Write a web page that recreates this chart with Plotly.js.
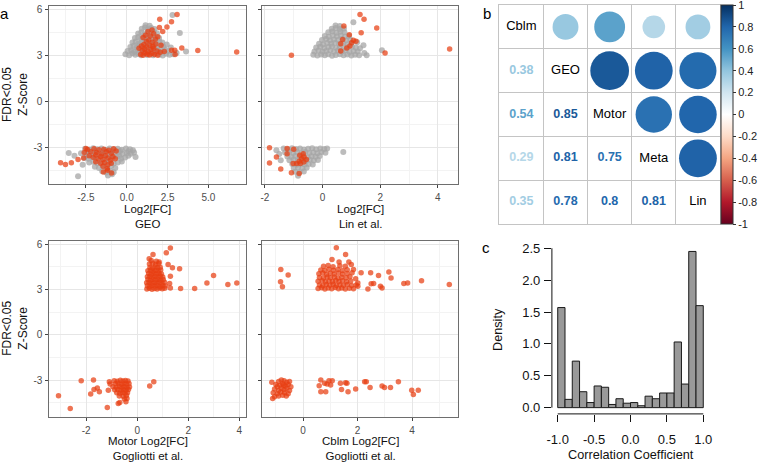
<!DOCTYPE html>
<html><head><meta charset="utf-8">
<script src="https://cdn.plot.ly/plotly-3.0.1.min.js"></script>
<style>html,body{margin:0;padding:0;background:#fff}#chart{width:760px;height:463px}</style>
</head><body><div id="chart"></div>
<script>
// ---------- Panel a: GEO (top-left) ----------
const geoGrayX = [-0.08,0.15,0.35,0.52,0.70,0.88,1.05,1.25,1.45,1.62,1.80,2.00,2.20,2.40,2.62,2.85,3.05,
 0.05,0.28,0.46,0.65,0.82,1.00,1.18,1.38,1.55,1.72,1.92,2.10,2.32,2.55,
 0.22,0.42,0.60,0.78,0.95,1.12,1.30,1.50,1.68,1.86,2.05,2.25,
 0.35,0.55,0.72,0.90,1.08,1.26,1.44,1.62,1.80,2.00,2.18,
 0.50,0.70,0.88,1.06,1.24,1.42,1.60,1.78,1.98,
 0.70,0.90,1.08,1.27,1.46,1.64,1.85,
 0.92,1.12,1.30,1.50,1.70,
 1.15,1.40,2.80,3.25,3.63,2.70,2.45,
 -2.55,-2.30,-2.05,-1.80,-1.55,-1.30,-1.05,-0.80,-0.55,-0.30,-0.05,0.20,0.38,
 -2.40,-1.90,-1.40,-0.90,-0.40,0.10,
 -2.80,-2.50,-2.25,-2.00,-1.75,-1.50,-1.25,-1.00,-0.75,-0.50,-0.25,0.00,0.25,0.45,
 -2.45,-1.95,-1.45,-0.95,-0.45,0.10,
 -2.60,-2.35,-2.10,-1.85,-1.60,-1.35,-1.10,-0.85,-0.60,-0.35,-0.10,0.54,
 -2.30,-2.05,-1.80,-1.55,-1.30,-1.05,-0.80,-0.55,-0.30,
 -1.95,-1.70,-1.45,-1.20,-0.95,-0.70,
 -1.50,-1.25,-1.00,-0.80,-1.15,-0.90,
 -3.55,-2.98,-3.20,-2.70];
const geoGrayY = [3.12,3.05,3.18,3.08,3.14,3.04,3.16,3.07,3.13,3.05,3.17,3.09,3.03,3.15,3.08,3.12,3.20,
 3.32,3.38,3.28,3.42,3.30,3.40,3.27,3.36,3.45,3.31,3.39,3.28,3.42,3.33,
 3.58,3.66,3.55,3.70,3.60,3.52,3.68,3.57,3.65,3.54,3.69,3.60,
 3.88,3.95,3.82,3.92,3.86,3.97,3.84,3.93,3.85,3.95,3.88,
 4.18,4.24,4.12,4.22,4.15,4.27,4.14,4.22,4.17,
 4.47,4.55,4.42,4.52,4.45,4.57,4.48,
 4.78,4.85,4.74,4.83,4.76,
 5.00,4.97,5.67,4.50,3.30,3.55,3.75,
 -3.05,-3.10,-3.02,-3.08,-3.04,-3.11,-3.03,-3.09,-3.05,-3.12,-3.04,-3.08,-3.15,
 -3.20,-3.22,-3.18,-3.24,-3.20,-3.22,
 -3.35,-3.30,-3.40,-3.28,-3.38,-3.32,-3.42,-3.30,-3.36,-3.28,-3.40,-3.33,-3.38,-3.30,
 -3.50,-3.52,-3.48,-3.50,-3.52,-3.50,
 -3.65,-3.70,-3.60,-3.68,-3.58,-3.72,-3.62,-3.66,-3.58,-3.70,-3.62,-3.59,
 -3.95,-3.90,-4.00,-3.92,-3.98,-3.90,-4.02,-3.94,-3.88,
 -4.22,-4.30,-4.20,-4.28,-4.18,-4.30,
 -4.52,-4.60,-4.50,-4.58,-4.80,-4.72,
 -3.33,-4.85,-3.50,-4.10];
const geoOrangeX = [0.85,1.00,1.12,1.25,1.40,1.55,1.70,1.90,0.95,1.10,1.30,1.48,1.65,1.85,2.05,0.90,1.05,1.22,1.40,1.60,1.78,1.20,1.35,1.55,1.75,1.00,1.15,1.45,1.65,1.90,1.30,1.55,0.75,2.10,2.30,
 6.73,4.35,3.37,2.94,2.74,2.96,3.08,2.02,2.46,2.74,2.20,2.00,
 -2.40,-2.20,-2.00,-1.85,-1.70,-1.55,-1.40,-1.25,-1.10,-0.95,-0.80,-0.65,-2.30,-2.05,-1.90,-1.75,-1.60,-1.45,-1.30,-1.15,-1.00,-0.85,-0.70,-1.90,-1.60,-1.35,-1.15,-0.95,-1.45,-1.20,
 -4.05,-3.75,-3.39,-2.98,-2.64,-2.50,-0.93,-1.43,-1.17,-2.60];
const geoOrangeY = [3.10,3.05,3.20,3.12,3.06,3.18,3.10,3.04,3.35,3.45,3.30,3.40,3.50,3.32,3.25,3.65,3.75,3.60,3.70,3.62,3.78,3.95,4.05,3.90,4.10,4.20,4.35,4.30,4.45,4.25,4.60,4.70,3.50,3.70,3.30,
 3.26,3.35,3.52,3.37,3.37,3.09,5.70,5.39,4.89,5.24,4.60,4.85,
 -3.10,-3.25,-3.05,-3.30,-3.12,-3.40,-3.08,-3.25,-3.15,-3.35,-3.05,-3.20,-3.50,-3.60,-3.45,-3.70,-3.55,-3.75,-3.50,-3.65,-3.80,-3.55,-3.70,-3.90,-4.00,-3.95,-4.10,-4.00,-4.20,-4.35,
 -3.96,-4.07,-3.96,-3.76,-3.65,-3.04,-4.63,-4.57,-4.45,-3.30];

// ---------- Panel a: Lin et al. (top-right) ----------
const linGrayX = [-0.32,-0.18,-0.05,0.08,0.20,0.33,0.46,0.60,0.73,0.86,1.00,1.13,1.27,
 -0.28,-0.14,0.00,0.13,0.27,0.40,0.53,0.67,0.80,0.94,1.08,1.22,
 -0.22,-0.08,0.06,0.20,0.33,0.47,0.60,0.74,0.88,1.02,1.16,
 -0.12,0.02,0.16,0.30,0.44,0.58,0.72,0.86,1.00,
 -0.02,0.12,0.26,0.40,0.54,0.68,0.82,0.96,
 0.08,0.22,0.36,0.50,0.64,0.78,0.92,
 0.20,0.34,0.48,0.62,0.76,
 0.32,0.46,0.60,0.74,
 0.60,0.45,1.07,1.53,2.06,1.42,1.45,1.30,1.20,
 -1.35,-1.20,-1.06,-0.92,-0.78,-0.64,-0.50,-0.36,-0.22,-0.08,0.06,0.16,
 -1.30,-1.16,-1.02,-0.88,-0.74,-0.60,-0.46,-0.32,-0.18,-0.04,0.10,
 -1.22,-1.08,-0.94,-0.80,-0.66,-0.52,-0.38,-0.24,-0.10,
 -1.15,-1.00,-0.86,-0.72,-0.58,-0.44,-0.30,-0.16,
 -1.05,-0.90,-0.76,-0.62,-0.48,-0.34,
 -1.00,-0.85,-0.70,-0.55,
 -0.95,-0.80,-0.65,
 -0.85,0.72,-1.50,-1.45,-1.60];
const linGrayY = [3.08,3.03,3.10,3.05,3.12,3.02,3.07,3.11,3.04,3.09,3.03,3.08,3.05,
 3.30,3.36,3.27,3.33,3.38,3.28,3.35,3.30,3.37,3.26,3.32,3.29,
 3.55,3.60,3.52,3.58,3.62,3.54,3.59,3.51,3.57,3.61,3.53,
 3.80,3.76,3.84,3.79,3.86,3.78,3.83,3.77,3.82,
 4.05,4.10,4.02,4.08,4.04,4.11,4.03,4.07,
 4.30,4.26,4.34,4.28,4.33,4.27,4.31,
 4.55,4.60,4.52,4.58,4.54,
 4.78,4.82,4.76,4.80,
 4.95,4.98,5.20,3.04,3.37,3.70,3.20,3.50,3.90,
 -3.04,-3.09,-3.02,-3.07,-3.03,-3.10,-3.05,-3.02,-3.08,-3.04,-3.06,-3.03,
 -3.30,-3.26,-3.33,-3.28,-3.35,-3.27,-3.32,-3.29,-3.34,-3.27,-3.31,
 -3.55,-3.59,-3.52,-3.57,-3.53,-3.60,-3.54,-3.58,-3.52,
 -3.80,-3.76,-3.83,-3.78,-3.84,-3.77,-3.82,-3.79,
 -4.05,-4.09,-4.03,-4.08,-4.04,-4.07,
 -4.30,-4.27,-4.33,-4.29,
 -4.55,-4.58,-4.53,
 -4.82,-3.26,-3.40,-3.80,-3.15];
const linOrangeX = [1.30,1.44,1.88,0.74,0.93,1.34,0.70,0.63,1.07,1.16,1.01,0.84,0.95,0.63,2.17,4.41,-1.08,
 -1.84,-1.60,-1.84,-1.45,-1.23,-1.23,-1.00,-1.08,-0.81,-0.79,-0.67,-0.73,-0.81,-0.90,-1.02,-0.56,-0.65,-0.77,-0.64];
const linOrangeY = [5.70,5.39,4.83,4.96,4.39,4.52,4.07,3.80,4.02,3.96,3.87,3.52,3.65,3.33,3.20,3.46,3.04,
 -2.98,-3.59,-3.98,-4.37,-3.04,-3.37,-3.09,-4.61,-4.67,-3.48,-3.37,-3.70,-3.87,-4.02,-4.02,-3.76,-3.91,-4.02,-3.59];

// ---------- Panel a: Motor, Gogliotti et al. (bottom-left) ----------
const motorX = [0.38,0.48,0.58,0.68,0.78,0.88,0.98,1.08,
 0.40,0.50,0.60,0.70,0.80,0.90,1.00,1.10,
 0.37,0.47,0.57,0.67,0.77,0.87,0.97,1.07,
 0.42,0.52,0.62,0.72,0.82,0.92,1.02,
 0.40,0.50,0.60,0.70,0.80,0.90,1.00,
 0.45,0.55,0.65,0.75,0.85,0.95,
 0.42,0.52,0.62,0.72,0.82,0.92,
 0.50,0.60,0.70,0.80,0.90,
 0.48,0.60,0.72,0.85,
 0.55,0.75,
 0.62,1.14,1.30,1.21,1.38,1.66,1.30,1.27,1.30,1.70,2.25,2.73,2.99,3.55,3.90,0.47,0.86,
 -0.90,-0.78,-0.66,-0.56,-0.46,-0.36,
 -0.85,-0.74,-0.62,-0.52,-0.42,-0.32,
 -0.95,-0.82,-0.70,-0.60,-0.50,-0.40,-0.30,
 -0.88,-0.76,-0.64,-0.54,-0.44,-0.34,
 -0.80,-0.68,-0.58,-0.48,-0.38,
 -0.70,-0.55,-0.42,
 -0.50,-0.40,
 -3.08,-2.62,-2.19,-1.71,-1.69,-1.82,-1.56,-1.48,-1.17,-1.13,-1.09,-0.74,-0.68,-0.44,0.49,0.65,-1.06];
const motorY = [3.04,3.09,3.02,3.07,3.03,3.10,3.05,3.08,
 3.26,3.22,3.29,3.24,3.28,3.21,3.27,3.23,
 3.45,3.49,3.42,3.47,3.43,3.50,3.44,3.48,
 3.66,3.62,3.69,3.64,3.68,3.61,3.67,
 3.85,3.89,3.82,3.88,3.84,3.90,3.83,
 4.06,4.02,4.09,4.04,4.08,4.03,
 4.25,4.29,4.22,4.28,4.24,4.30,
 4.46,4.42,4.49,4.44,4.48,
 4.70,4.74,4.68,4.72,
 4.92,4.88,
 5.33,5.44,5.76,4.67,4.44,4.38,3.89,3.40,3.11,3.07,3.07,3.44,3.93,3.33,3.44,5.04,4.82,
 -3.04,-3.08,-3.02,-3.07,-3.03,-3.06,
 -3.25,-3.22,-3.28,-3.24,-3.27,-3.23,
 -3.45,-3.48,-3.43,-3.47,-3.44,-3.49,-3.46,
 -3.65,-3.62,-3.68,-3.64,-3.67,-3.63,
 -3.85,-3.88,-3.83,-3.87,-3.84,
 -4.05,-4.08,-4.03,
 -4.25,-4.22,
 -4.04,-4.89,-3.04,-3.00,-3.62,-3.93,-3.53,-3.78,-4.82,-3.67,-3.11,-4.56,-4.49,-4.44,-3.40,-3.11,-3.27];

// ---------- Panel a: Cblm, Gogliotti et al. (bottom-right) ----------
const cblmX = [0.55,0.68,0.80,0.92,1.05,1.18,1.30,1.42,1.55,1.70,1.85,
 0.60,0.72,0.85,0.98,1.10,1.22,1.35,1.48,1.62,1.78,1.95,
 0.55,0.70,0.82,0.95,1.08,1.20,1.32,1.45,1.60,1.75,
 0.60,0.75,0.88,1.00,1.15,1.28,1.42,1.58,1.72,
 0.58,0.72,0.86,1.00,1.14,1.30,1.45,1.62,1.80,
 0.65,0.80,0.95,1.12,1.28,1.45,1.62,
 0.75,0.92,1.10,1.35,1.55,
 1.22,1.56,1.06,1.32,1.68,1.77,1.85,2.13,2.48,2.77,3.15,3.23,2.59,2.50,2.38,2.84,2.90,3.70,3.84,4.35,5.37,1.93,2.01,2.01,-0.82,-0.55,-0.83,-0.76,
 -1.15,-1.00,-0.90,-0.80,-0.70,-0.60,-0.50,-0.95,-0.85,-0.75,-0.65,-0.55,-0.45,-1.05,-0.90,-0.80,-0.70,-0.60,-0.50,-1.10,-0.95,-0.82,-0.68,-0.55,-1.05,-0.90,-0.75,-1.12,-0.62,-0.72,
 0.65,0.59,0.65,0.83,0.79,0.95,1.07,1.01,1.37,1.41,1.56,1.61,1.65,1.93,2.26,2.32,2.46,2.90,2.99,3.21,3.50,3.99,4.05,4.23,0.88];
const cblmY = [3.07,3.12,3.04,3.10,3.05,3.13,3.06,3.11,3.03,3.09,3.05,
 3.30,3.26,3.33,3.28,3.35,3.27,3.32,3.29,3.34,3.27,3.31,
 3.55,3.59,3.52,3.57,3.53,3.60,3.54,3.58,3.52,3.56,
 3.80,3.76,3.83,3.78,3.84,3.77,3.82,3.79,3.85,
 4.05,4.09,4.02,4.08,4.04,4.10,4.03,4.07,4.12,
 4.30,4.26,4.34,4.28,4.33,4.27,4.31,
 4.55,4.60,4.52,4.58,4.54,
 5.78,5.33,5.00,4.82,4.82,4.67,4.33,4.11,4.11,3.93,4.16,3.76,3.40,3.38,3.04,3.22,3.11,3.40,3.44,3.58,3.33,3.71,3.44,3.22,4.33,3.96,3.51,3.18,
 -3.15,-3.30,-3.10,-3.00,-3.05,-3.15,-3.10,-3.45,-3.35,-3.25,-3.40,-3.30,-3.45,-3.60,-3.70,-3.55,-3.65,-3.55,-3.70,-3.85,-3.90,-3.80,-3.85,-3.90,-4.10,-4.05,-4.00,-4.22,-4.05,-3.35,
 -3.00,-3.38,-3.78,-3.78,-3.22,-3.04,-3.04,-3.33,-3.22,-3.62,-3.18,-3.22,-3.78,-3.60,-3.11,-3.11,-3.49,-3.40,-3.49,-3.49,-3.11,-3.67,-3.96,-3.67,-3.27];

// ---------- Panel b: correlation matrix ----------
const corrNames = ['Cblm','GEO','Motor','Meta','Lin'];
const corrValues = [
  [1.00, 0.38, 0.54, 0.29, 0.35],
  [0.38, 1.00, 0.85, 0.81, 0.78],
  [0.54, 0.85, 1.00, 0.75, 0.80],
  [0.29, 0.81, 0.75, 1.00, 0.81],
  [0.35, 0.78, 0.80, 0.81, 1.00]
];
const colorbarTicks = [1, 0.8, 0.6, 0.4, 0.2, 0, -0.2, -0.4, -0.6, -0.8, -1];
const colorbarTickText = ['1','0.8','0.6','0.4','0.2','0','-0.2','-0.4','-0.6','-0.8','-1'];

// ---------- Panel c: histogram ----------
const histBinMid = [-0.95,-0.85,-0.75,-0.65,-0.55,-0.45,-0.35,-0.25,-0.15,-0.05,0.05,0.15,0.25,0.35,0.45,0.55,0.65,0.75,0.85,0.95];
const histDensity = [1.57,0.13,0.73,0.25,0.08,0.34,0.32,0.05,0.14,0.07,0.08,0.03,0.18,0.14,0.23,0.23,1.03,0.37,2.45,1.60];
const histXTicks = [-1,-0.5,0,0.5,1];
const histXTickText = ['-1.0','-0.5','0.0','0.5','1.0'];
const histYTicks = [0,0.5,1,1.5,2,2.5];
const histYTickText = ['0.0','0.5','1.0','1.5','2.0','2.5'];

// ---------- tick labels and titles for panel a ----------
const zTicks = [-3,0,3,6];
const zTickText = ['-3','0','3','6'];
const geoXTicks = [-2.5,0,2.5,5];
const geoXTickText = ['-2.5','0.0','2.5','5.0'];
const linXTicks = [-2,0,2,4];
const linXTickText = ['-2','0','2','4'];
const motorXTicks = [-2,0,2,4];
const motorXTickText = ['-2','0','2','4'];
const cblmXTicks = [0,2,4];
const cblmXTickText = ['0','2','4'];
const yTitleLines = ['FDR<0.05', 'Z-Score'];
const xTitleLines = {
  geo: ['Log2[FC]', 'GEO'],
  lin: ['Log2[FC]', 'Lin et al.'],
  motor: ['Motor Log2[FC]', 'Gogliotti et al.'],
  cblm: ['Cblm Log2[FC]', 'Gogliotti et al.']
};

// ================= drawing =================
const FONT = 'Liberation Sans, Arial, Helvetica, sans-serif';
const W = 760, H = 463;
const px = v => v / W;
const py = v => 1 - v / H;
const GRAY = 'rgba(165,165,165,0.75)';
const ORANGE = 'rgba(232,62,18,0.72)';
const rdbu = ['#67001F','#B2182B','#D6604D','#F4A582','#FDDBC7','#FFFFFF','#D1E5F0','#92C5DE','#4393C3','#2166AC','#053061'];
const colorscale = rdbu.map((c, i) => [i / (rdbu.length - 1), c]);
const esc = s => s.replace(/</g, '&lt;');

function hexToRgb(h) { return [parseInt(h.slice(1,3),16), parseInt(h.slice(3,5),16), parseInt(h.slice(5,7),16)]; }
function scaleColor(v) {
  const t = (v + 1) / 2 * (rdbu.length - 1);
  const i = Math.min(Math.floor(t), rdbu.length - 2);
  const f = t - i;
  const a = hexToRgb(rdbu[i]), b = hexToRgb(rdbu[i + 1]);
  const c = a.map((x, k) => Math.round(x + (b[k] - x) * f));
  return 'rgb(' + c.join(',') + ')';
}

function minorVals(t, range) {
  const step = t[1] - t[0];
  const out = [t[0] - step / 2];
  for (let i = 0; i < t.length - 1; i++) out.push((t[i] + t[i + 1]) / 2);
  out.push(t[t.length - 1] + step / 2);
  return out.filter(v => v > range[0] && v < range[1]);
}

function ggAxis(domain, range, tickvals, ticktext, showLabels, anchor) {
  return {
    domain: domain, range: range, anchor: anchor,
    tickmode: 'array', tickvals: tickvals, ticktext: ticktext,
    showticklabels: showLabels, ticklabelstandoff: 1,
    ticks: 'outside', ticklen: 3, tickwidth: 1, tickcolor: '#444',
    showgrid: true, gridcolor: '#e6e6e6', gridwidth: 1,
    minor: { tickmode: 'array', tickvals: minorVals(tickvals, range), showgrid: true, gridcolor: '#f3f3f3', gridwidth: 1, ticks: '' },
    showline: true, mirror: true, linecolor: '#6e6e6e', linewidth: 1,
    zeroline: false, fixedrange: true,
    tickfont: { family: FONT, size: 10, color: '#4d4d4d' }
  };
}

function pts(x, y, color, size, xa, ya) {
  return { type: 'scatter', mode: 'markers', x: x, y: y, xaxis: xa, yaxis: ya,
    marker: { size: size, color: color, line: { width: 0 } }, hoverinfo: 'x+y' };
}

const traces = [
  pts(geoGrayX, geoGrayY, GRAY, 6, 'x', 'y'),
  pts(geoOrangeX, geoOrangeY, ORANGE, 5.5, 'x', 'y'),
  pts(linGrayX, linGrayY, GRAY, 6, 'x2', 'y2'),
  pts(linOrangeX, linOrangeY, ORANGE, 5.5, 'x2', 'y2'),
  pts(motorX, motorY, ORANGE, 5.5, 'x3', 'y3'),
  pts(cblmX, cblmY, ORANGE, 5.5, 'x4', 'y4')
];

// correlation matrix traces
const circX = [], circY = [], circR = [], numX = [], numY = [], numT = [], numC = [];
for (let i = 0; i < corrNames.length; i++) {
  for (let j = 0; j < corrNames.length; j++) {
    const r = corrValues[i][j];
    if (j > i) { circX.push(j + 1); circY.push(i + 1); circR.push(r); }
    else if (j < i) { numX.push(j + 1); numY.push(i + 1); numT.push('<b>' + String(r) + '</b>'); numC.push(scaleColor(r)); }
  }
}
const maxDiam = 42;
traces.push({
  type: 'scatter', mode: 'markers', x: circX, y: circY, xaxis: 'x5', yaxis: 'y5',
  marker: {
    size: circR.map(r => maxDiam * Math.sqrt(Math.abs(r))), sizemode: 'diameter',
    color: circR, cmin: -1, cmax: 1, colorscale: colorscale, line: { width: 0 }, opacity: 1,
    showscale: true,
    colorbar: {
      x: px(721), xanchor: 'left', xpad: 0, ypad: 0,
      y: py(5), yanchor: 'top', len: 219, lenmode: 'pixels',
      thickness: 12, thicknessmode: 'pixels',
      outlinewidth: 1, outlinecolor: '#333',
      tickmode: 'array', tickvals: colorbarTicks, ticktext: colorbarTickText,
      ticklabeloverflow: 'allow',
      ticks: 'outside', ticklen: 3, tickcolor: '#333',
      tickfont: { family: FONT, size: 11, color: '#222' }
    }
  }, hoverinfo: 'text', text: circR.map(String)
});
traces.push({
  type: 'scatter', mode: 'text', x: numX, y: numY, text: numT, xaxis: 'x5', yaxis: 'y5',
  textfont: { family: FONT, size: 12.5, color: numC }, hoverinfo: 'none'
});
traces.push({
  type: 'scatter', mode: 'text', x: corrNames.map((n, i) => i + 1), y: corrNames.map((n, i) => i + 1),
  text: corrNames, xaxis: 'x5', yaxis: 'y5',
  textfont: { family: FONT, size: 13, color: '#000' }, hoverinfo: 'none'
});

// histogram
traces.push({
  type: 'bar', x: histBinMid, y: histDensity, width: 0.1, xaxis: 'x6', yaxis: 'y6',
  marker: { color: '#999999', line: { color: '#1a1a1a', width: 1 } }, hoverinfo: 'x+y'
});

const cellLines = [0.5, 1.5, 2.5, 3.5, 4.5, 5.5];
const corrAxis = (domain, range, anchor) => ({
  domain: domain, range: range, anchor: anchor,
  tickmode: 'array', tickvals: cellLines, showticklabels: false, ticks: '',
  showgrid: true, gridcolor: '#c4c4c4', gridwidth: 1,
  showline: true, mirror: true, linecolor: '#c4c4c4', linewidth: 1,
  zeroline: false, fixedrange: true
});

// panel pixel boxes
const TOP = [6, 184], BOT = [241, 416.7], LEFT = [49.3, 246], RIGHT = [262.3, 458];
const topY = [py(TOP[1]), py(TOP[0])];
const botY = [py(BOT[1]), py(BOT[0])];
const leftX = [px(LEFT[0]), px(LEFT[1])];
const rightX = [px(RIGHT[0]), px(RIGHT[1])];

const histXRange = [-1.08, 1.08];
const histYRange = [-0.098, 2.548];

function label(text, x, y, size, extra) {
  return Object.assign({ text: text, xref: 'paper', yref: 'paper', x: px(x), y: py(y),
    xanchor: 'center', yanchor: 'middle', showarrow: false, borderpad: 0,
    font: { family: FONT, size: size, color: '#111' } }, extra || {});
}
const annotations = [
  label('a', 4.5, 13, 15, { font: { family: FONT, size: 15, color: '#000' } }),
  label('b', 487, 13, 15, { font: { family: FONT, size: 15, color: '#000' } }),
  label('c', 485.5, 247, 15, { font: { family: FONT, size: 15, color: '#000' } })
];
// x titles of panel a (two-line titles)
[[xTitleLines.geo, LEFT, TOP, 32.5], [xTitleLines.lin, RIGHT, TOP, 32.5], [xTitleLines.motor, LEFT, BOT, 31.6], [xTitleLines.cblm, RIGHT, BOT, 31.6]]
  .forEach(([lines, xs, ys, off]) => {
    const cx = (xs[0] + xs[1]) / 2;
    annotations.push(label(lines.map(esc).join('<br>'), cx, ys[1] + off, 11.5));
  });
// y titles of panel a
[TOP, BOT].forEach(ys => {
  const cy = (ys[0] + ys[1]) / 2;
  annotations.push(label(yTitleLines.map(esc).join('<br>'), 15, cy, 12, { textangle: -90 }));
});
// histogram titles
annotations.push(label('Correlation Coefficient', 630.5, 455, 12.7));
annotations.push(label('Density', 497.5, 329.5, 12.7, { textangle: -90 }));

const layout = {
  width: W, height: H,
  margin: { l: 0, r: 0, t: 0, b: 0, pad: 0 },
  paper_bgcolor: '#fff', plot_bgcolor: '#fff',
  showlegend: false,
  font: { family: FONT },
  xaxis: ggAxis(leftX, [-4.74, 7.3], geoXTicks, geoXTickText, true, 'y'),
  yaxis: ggAxis(topY, [-5.35, 6.26], zTicks, zTickText, true, 'x'),
  xaxis2: ggAxis(rightX, [-2.09, 4.70], linXTicks, linXTickText, true, 'y2'),
  yaxis2: ggAxis(topY, [-5.35, 6.26], zTicks, zTickText, false, 'x2'),
  xaxis3: ggAxis(leftX, [-3.44, 4.26], motorXTicks, motorXTickText, true, 'y3'),
  yaxis3: ggAxis(botY, [-5.43, 6.22], zTicks, zTickText, true, 'x3'),
  xaxis4: ggAxis(rightX, [-1.5, 5.69], cblmXTicks, cblmXTickText, true, 'y4'),
  yaxis4: ggAxis(botY, [-5.43, 6.22], zTicks, zTickText, false, 'x4'),
  xaxis5: corrAxis([px(499.3), px(720)], [0.5, 5.5], 'y5'),
  yaxis5: corrAxis([py(224), py(5)], [5.5, 0.5], 'x5'),
  xaxis6: {
    domain: [px(551.9), px(709.1)], range: histXRange, anchor: 'y6',
    tickmode: 'array', tickvals: histXTicks, ticktext: histXTickText,
    ticks: 'outside', ticklen: 7, tickwidth: 1, tickcolor: '#111', ticklabelstandoff: 6,
    showline: false, showgrid: false, zeroline: false, fixedrange: true,
    tickfont: { family: FONT, size: 13, color: '#111' }
  },
  yaxis6: {
    domain: [py(413.9), py(245.2)], range: histYRange, anchor: 'x6',
    tickmode: 'array', tickvals: histYTicks, ticktext: histYTickText,
    ticks: 'outside', ticklen: 7, tickwidth: 1, tickcolor: '#111', ticklabelstandoff: 1,
    showline: false, showgrid: false, zeroline: false, fixedrange: true,
    tickfont: { family: FONT, size: 13, color: '#111' }
  },
  bargap: 0,
  shapes: [
    { type: 'line', xref: 'x6', yref: 'y6 domain', x0: histXTicks[0], x1: histXTicks[histXTicks.length - 1], y0: 0, y1: 0, line: { color: '#111', width: 1 } },
    { type: 'line', xref: 'x6 domain', yref: 'y6', x0: 0, x1: 0, y0: histYTicks[0], y1: histYTicks[histYTicks.length - 1], line: { color: '#111', width: 1 } }
  ],
  annotations: annotations
};

Plotly.newPlot('chart', traces, layout, { staticPlot: true, displayModeBar: false });
</script></body></html>
